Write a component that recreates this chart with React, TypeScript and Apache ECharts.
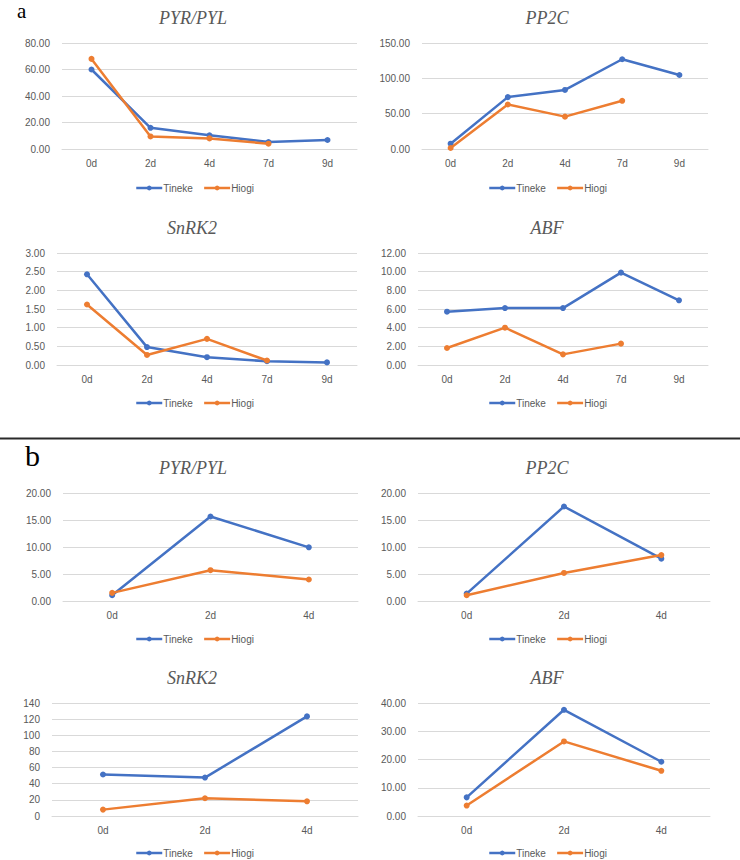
import React, { useEffect, useRef } from "react";
import * as echarts from "echarts";

// ---------- data ----------
const daysA = ["0d", "2d", "4d", "7d", "9d"];
const daysB = ["0d", "2d", "4d"];
const seriesNames = ["Tineke", "Hiogi"];
const geneTitles = ["PYR/PYL", "PP2C", "SnRK2", "ABF"];

// panel a
const aPyrTineke = [60.0, 16.0, 10.3, 5.3, 6.8];
const aPyrHiogi = [68.0, 9.5, 8.0, 4.0, null];
const aPp2cTineke = [7.5, 73.4, 83.6, 127.0, 104.7];
const aPp2cHiogi = [1.4, 63.0, 45.8, 68.2, null];
const aSnrkTineke = [2.43, 0.48, 0.21, 0.1, 0.07];
const aSnrkHiogi = [1.62, 0.27, 0.7, 0.12, null];
const aAbfTineke = [5.71, 6.1, 6.1, 9.9, 6.93];
const aAbfHiogi = [1.82, 4.0, 1.14, 2.29, null];

// panel b
const bPyrTineke = [1.06, 15.65, 9.94];
const bPyrHiogi = [1.5, 5.7, 3.98];
const bPp2cTineke = [1.37, 17.5, 7.83];
const bPp2cHiogi = [1.06, 5.2, 8.5];
const bSnrkTineke = [51.4, 47.6, 123.4];
const bSnrkHiogi = [7.9, 22.0, 18.2];
const bAbfTineke = [6.6, 37.6, 19.2];
const bAbfHiogi = [3.7, 26.4, 16.0];

// y-axis scales (max, interval, decimals)
const yMax = [80, 150, 3, 12, 20, 20, 140, 40];
const yInterval = [20, 50, 0.5, 2, 5, 5, 20, 10];
const yDecimals = [2, 2, 2, 2, 2, 2, 0, 2];

const BLUE = "#4472C4";
const ORANGE = "#ED7D31";
const GRID_COLOR = "#D9D9D9";
const TEXT_COLOR = "#595959";
const SANS = "'Liberation Sans', Arial, sans-serif";
const SERIF = "'Liberation Serif', 'Times New Roman', serif";

// ---------- layout ----------
const charts = [
  { cats: daysA, t: aPyrTineke, h: aPyrHiogi, title: 0, left: 62, top: 43, width: 295, height: 106, titleX: 193, titleY: 18, legX: 135, legY: 183 },
  { cats: daysA, t: aPp2cTineke, h: aPp2cHiogi, title: 1, left: 422, top: 43, width: 286, height: 106, titleX: 547, titleY: 18, legX: 488, legY: 183 },
  { cats: daysA, t: aSnrkTineke, h: aSnrkHiogi, title: 2, left: 57, top: 253, width: 300, height: 112, titleX: 192, titleY: 228, legX: 135, legY: 398 },
  { cats: daysA, t: aAbfTineke, h: aAbfHiogi, title: 3, left: 418, top: 253, width: 290, height: 112, titleX: 547, titleY: 228, legX: 488, legY: 398 },
  { cats: daysB, t: bPyrTineke, h: bPyrHiogi, title: 0, left: 63, top: 493, width: 295, height: 108, titleX: 193, titleY: 468, legX: 135, legY: 634 },
  { cats: daysB, t: bPp2cTineke, h: bPp2cHiogi, title: 1, left: 418, top: 493, width: 292, height: 108, titleX: 547, titleY: 468, legX: 488, legY: 634 },
  { cats: daysB, t: bSnrkTineke, h: bSnrkHiogi, title: 2, left: 52, top: 703, width: 306, height: 113, titleX: 192, titleY: 678, legX: 135, legY: 848 },
  { cats: daysB, t: bAbfTineke, h: bAbfHiogi, title: 3, left: 418, top: 703, width: 292, height: 113, titleX: 547, titleY: 678, legX: 488, legY: 848 },
];

function buildOption() {
  const grid: any[] = [];
  const xAxis: any[] = [];
  const yAxis: any[] = [];
  const series: any[] = [];
  const legend: any[] = [];
  const graphic: any[] = [];

  charts.forEach((c, i) => {
    grid.push({ left: c.left, top: c.top, width: c.width, height: c.height, containLabel: false });
    xAxis.push({
      type: "category",
      gridIndex: i,
      data: c.cats,
      boundaryGap: true,
      axisLine: { show: true, lineStyle: { color: GRID_COLOR, width: 1 } },
      axisTick: { show: false },
      axisLabel: { color: TEXT_COLOR, fontSize: 10, fontFamily: SANS, margin: 9 },
      splitLine: { show: false },
    });
    const dec = yDecimals[i];
    yAxis.push({
      type: "value",
      gridIndex: i,
      min: 0,
      max: yMax[i],
      interval: yInterval[i],
      axisLine: { show: false },
      axisTick: { show: false },
      axisLabel: {
        color: TEXT_COLOR,
        fontSize: 10,
        fontFamily: SANS,
        margin: 12,
        formatter: (v: number) => v.toFixed(dec),
      },
      splitLine: { show: true, lineStyle: { color: GRID_COLOR, width: 1 } },
    });
    [c.t, c.h].forEach((vals, k) => {
      const col = k === 0 ? BLUE : ORANGE;
      series.push({
        type: "line",
        name: seriesNames[k],
        xAxisIndex: i,
        yAxisIndex: i,
        data: vals.map((v) => (v === null ? "-" : v)),
        symbol: "circle",
        symbolSize: 6,
        showSymbol: true,
        connectNulls: false,
        lineStyle: { color: col, width: 2.5 },
        itemStyle: { color: col },
        z: k === 0 ? 3 : 4,
      });
    });
    legend.push({
      data: seriesNames,
      left: c.legX,
      top: c.legY,
      orient: "horizontal",
      itemWidth: 26,
      itemHeight: 6,
      itemGap: 10,
      padding: 0,
      selectedMode: false,
      lineStyle: { width: 2.5 },
      textStyle: { color: TEXT_COLOR, fontSize: 10, fontFamily: SANS, padding: [0, 0, 0, -4] },
    });
    graphic.push({
      type: "text",
      x: c.titleX,
      y: c.titleY,
      style: {
        text: geneTitles[c.title],
        fill: TEXT_COLOR,
        font: `italic 18px ${SERIF}`,
        align: "center",
        verticalAlign: "middle",
        textAlign: "center",
        textVerticalAlign: "middle",
      },
    });
  });

  graphic.push({
    type: "text",
    x: 17,
    y: 0,
    style: { text: "a", fill: "#000", font: `21px ${SERIF}`, textAlign: "left", textVerticalAlign: "top", align: "left", verticalAlign: "top" },
  });
  graphic.push({
    type: "text",
    x: 25,
    y: 470,
    style: { text: "b", fill: "#000", font: `30px ${SERIF}`, textAlign: "left", textVerticalAlign: "bottom", align: "left", verticalAlign: "bottom" },
  });
  graphic.push({
    type: "line",
    shape: { x1: 0, y1: 438.5, x2: 740, y2: 438.5 },
    style: { stroke: "#2a2a2a", lineWidth: 2 },
  });

  return {
    animation: false,
    backgroundColor: "#ffffff",
    grid,
    xAxis,
    yAxis,
    series,
    legend,
    graphic,
  };
}

export default function App() {
  const ref = useRef<HTMLDivElement>(null);
  useEffect(() => {
    if (!ref.current) return;
    const chart = echarts.init(ref.current, undefined, { renderer: "svg" });
    chart.setOption(buildOption() as any);
    return () => chart.dispose();
  }, []);
  return (
    <div
      ref={ref}
      style={{ position: "absolute", left: 0, top: 0, width: 740, height: 860, background: "#fff" }}
    />
  );
}
